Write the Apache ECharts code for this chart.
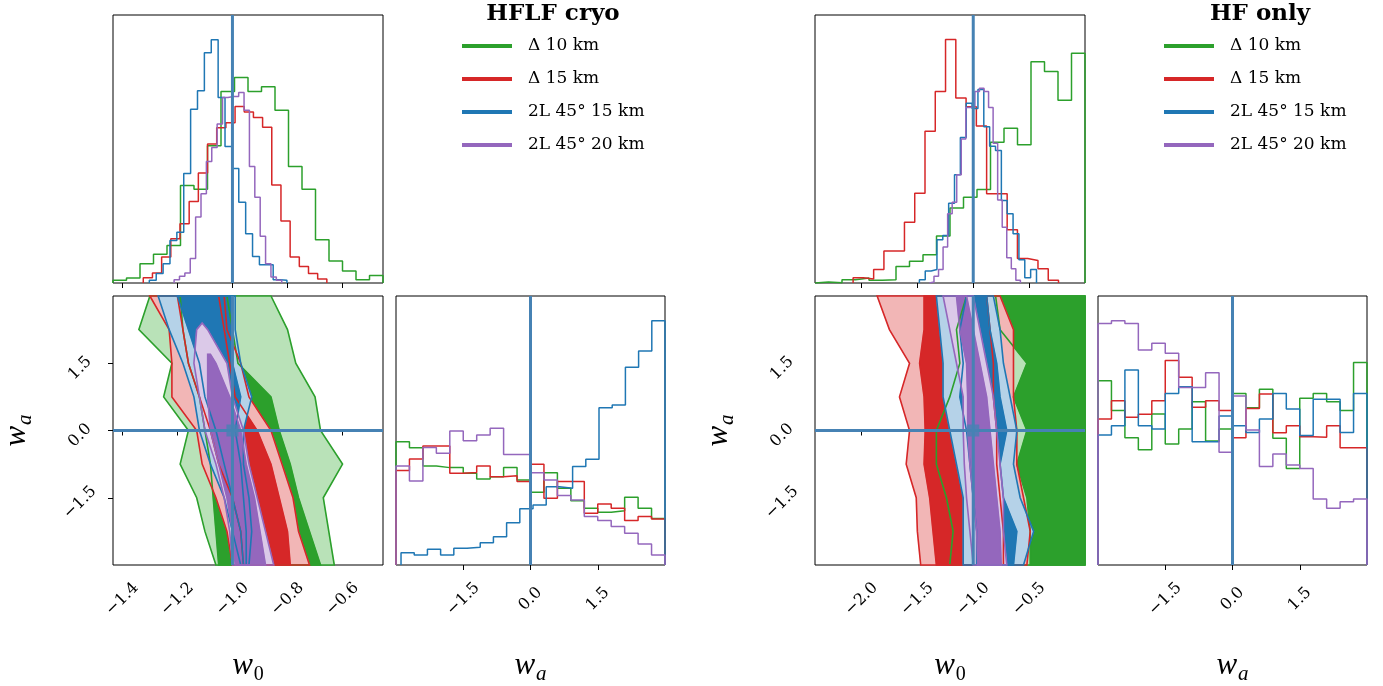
<!DOCTYPE html>
<html>
<head>
<meta charset="utf-8" />
<title>w0 - wa corner</title>
<style>
  html, body { margin: 0; padding: 0; background: #fff; }
  #chart { width: 1383px; height: 686px; }
</style>
</head>
<body>
<div id="chart"></div>
<script src="https://cdn.jsdelivr.net/npm/echarts@6.0.0/dist/echarts.min.js"></script>
<script>
var FONT = 'Liberation Serif';
var TICKFONT = 'DejaVu Serif';
var seriesNames = ['Δ 10 km', 'Δ 15 km', '2L 45° 15 km', '2L 45° 20 km'];
var lineColors = ['#2ca02c', '#d62728', '#1f77b4', '#9467bd'];
var fillColors = ['#b9e2b8', '#f2b6b6', '#b5d2e8', '#dbc9e8'];
var truthColor = '#4682b4';

var w0True = -1.0, waTrue = 0.0;
var w0RangeL = [-1.434, -0.453];
var w0RangeR = [-2.416, 0.0];
var waRange = [-3, 3];
var w0TicksL = [-1.4, -1.2, -1.0, -0.8, -0.6];
var w0TicksR = [-2.0, -1.5, -1.0, -0.5];
var waTicks = [-1.5, 0.0, 1.5];

// w0 histograms (bin range per curve, 20 bins each, arbitrary height units)
var w0BinsL = [[-1.434, -0.453], [-1.324, -0.657], [-1.302, -0.802], [-1.212, -0.821]];
var w0CountsL = [
  [1.0, 1.9, 7.2, 10.7, 14.0, 36.4, 35.0, 51.2, 71.5, 76.7, 71.5, 73.2, 64.5, 43.5, 35.0, 16.1, 8.2, 4.5, 1.2, 2.8],
  [2.0, 3.7, 9.7, 16.5, 22.1, 30.4, 41.0, 51.9, 57.9, 59.8, 65.9, 63.8, 61.8, 58.1, 36.6, 23.1, 9.7, 6.2, 3.5, 1.5],
  [1.0, 3.5, 7.2, 15.9, 18.9, 40.9, 64.8, 71.7, 85.9, 90.8, 69.2, 50.9, 42.7, 30.1, 18.4, 9.9, 6.8, 6.8, 1.2, 1.0],
  [1.2, 2.5, 3.7, 9.1, 24.6, 33.3, 45.3, 50.6, 59.3, 69.2, 69.6, 69.6, 71.1, 64.5, 43.5, 32.0, 17.4, 7.2, 2.2, 1.0]
];
var w0BinsR = [[-2.416, 0.0], [-2.075, -0.237], [-1.482, -0.434], [-1.392, -0.578]];
var w0CountsR = [
  [0.4, 0.1, 1.2, 1.9, 1.0, 1.2, 6.2, 8.1, 10.5, 17.5, 28.0, 32.0, 34.9, 52.5, 57.7, 51.6, 82.6, 78.9, 68.2, 85.7],
  [2.0, 1.5, 5.0, 11.9, 11.9, 22.7, 33.5, 56.6, 71.5, 90.9, 69.0, 65.8, 58.6, 33.3, 33.3, 19.9, 9.1, 8.4, 5.3, 1.0],
  [1.2, 4.5, 5.0, 16.1, 17.7, 29.8, 40.4, 54.3, 67.1, 65.1, 72.2, 58.3, 51.0, 49.4, 30.8, 25.8, 18.4, 8.7, 2.0, 5.0],
  [0.4, 2.5, 5.0, 13.4, 25.8, 30.1, 40.4, 53.7, 65.5, 65.8, 71.5, 72.7, 71.5, 65.5, 52.1, 31.0, 20.8, 9.4, 5.3, 1.0]
];

// wa histograms
var waBinsL = [[-3, 3], [-3, 3], [-2.888, 3], [-3, 3]];
var waCountsL = [
  [45.8, 43.6, 36.8, 36.2, 36.2, 34.1, 32.0, 32.8, 36.2, 31.6, 27.0, 34.3, 28.5, 23.9, 21.1, 19.6, 20.2, 25.2, 21.1, 17.3],
  [35.1, 39.4, 44.2, 44.2, 34.1, 34.4, 36.8, 32.8, 33.2, 31.0, 37.5, 24.8, 31.0, 31.0, 19.2, 22.7, 21.1, 16.5, 18.0, 17.1],
  [4.6, 3.7, 5.9, 3.7, 6.2, 6.6, 8.3, 10.5, 15.7, 20.9, 22.3, 29.1, 28.5, 36.6, 39.3, 58.5, 59.5, 73.5, 79.6, 90.8],
  [36.8, 31.2, 43.7, 41.5, 49.8, 46.2, 48.3, 50.8, 41.1, 41.1, 34.3, 31.6, 25.8, 24.2, 18.0, 16.5, 14.3, 11.8, 7.8, 3.7]
];
var waBinsR = [[-3, 3], [-3, 3], [-3, 3], [-3, 3]];
var waCountsR = [
  [68.5, 57.4, 47.3, 42.8, 56.1, 45.0, 50.6, 60.7, 46.1, 50.6, 63.8, 58.5, 65.3, 47.1, 35.9, 62.0, 63.8, 60.7, 57.4, 75.3],
  [54.3, 61.1, 54.9, 56.0, 61.1, 76.0, 69.8, 58.6, 61.1, 57.4, 47.3, 58.2, 63.6, 49.2, 51.8, 47.7, 47.5, 51.8, 43.6, 43.6],
  [48.3, 51.8, 72.5, 51.8, 50.6, 63.8, 66.3, 45.8, 45.8, 55.4, 51.8, 49.3, 54.3, 63.8, 58.0, 48.1, 61.6, 61.6, 49.3, 63.8],
  [89.8, 90.8, 89.8, 79.9, 82.4, 78.7, 66.0, 66.0, 71.5, 41.9, 62.8, 50.2, 36.6, 41.3, 37.2, 35.9, 24.5, 21.1, 23.5, 24.5]
];

// 2D credible regions: w0 bounds (lo, hi) at each wa row; outer = 2 sigma, inner = 1 sigma
var waRows = [3, 2.25, 1.5, 0.75, 0, -0.75, -1.5, -2.25, -3];
var contoursL = [
  {k: 0, level: 'outer', wa: waRows, lo: [-1.30, -1.34, -1.22, -1.25, -1.16, -1.19, -1.13, -1.10, -1.06], hi: [-0.86, -0.80, -0.77, -0.70, -0.68, -0.60, -0.67, -0.65, -0.63]},
  {k: 0, level: 'inner', wa: waRows, lo: [-1.19, -1.18, -1.16, -1.12, -1.10, -1.08, -1.07, -1.06, -1.05], hi: [-1.02, -1.00, -0.98, -0.86, -0.83, -0.79, -0.76, -0.72, -0.68]},
  {k: 1, level: 'outer', wa: waRows, lo: [-1.30, -1.23, -1.22, -1.22, -1.13, -1.11, -1.06, -1.02, -1.00], hi: [-1.03, -1.02, -0.97, -0.94, -0.86, -0.82, -0.78, -0.76, -0.72]},
  {k: 1, level: 'inner', wa: waRows, lo: [-1.20, -1.18, -1.16, -1.12, -1.08, -1.05, -1.00, -0.97, -0.96], hi: [-1.05, -1.03, -1.01, -0.99, -0.91, -0.86, -0.83, -0.80, -0.79]},
  {k: 2, level: 'outer', wa: waRows, lo: [-1.27, -1.23, -1.18, -1.14, -1.12, -1.08, -1.03, -1.00, -0.97], hi: [-0.99, -0.99, -0.97, -0.93, -0.96, -0.96, -0.94, -0.93, -0.94]},
  {k: 2, level: 'inner', wa: waRows, lo: [-1.20, -1.16, -1.12, -1.10, -1.06, -1.03, -1.00, -0.97, -0.96], hi: [-1.00, -1.00, -1.00, -0.97, -0.99, -0.97, -0.96, -0.95, -0.95]},
  {k: 3, level: 'outer', wa: [2.4, 2.25, 1.5, 0.75, 0, -0.75, -1.5, -2.25, -3], lo: [-1.11, -1.13, -1.14, -1.12, -1.10, -1.06, -1.03, -1.01, -1.00], hi: [-1.11, -1.09, -1.02, -1.00, -0.96, -0.94, -0.91, -0.88, -0.85]},
  {k: 3, level: 'inner', wa: [1.7, 1.5, 0.75, 0, -0.75, -1.5, -2.25, -3], lo: [-1.09, -1.09, -1.09, -1.08, -1.05, -1.02, -1.00, -0.99], hi: [-1.08, -1.06, -1.01, -0.97, -0.95, -0.92, -0.90, -0.88]}
];
var contoursR = [
  {k: 0, level: 'outer', wa: waRows, lo: [-1.06, -1.15, -1.12, -1.21, -1.33, -1.33, -1.24, -1.18, -1.21], hi: [0.1, 0.1, 0.1, 0.1, 0.1, 0.1, 0.1, 0.1, 0.1]},
  {k: 0, level: 'inner', wa: waRows, lo: [-0.80, -0.76, -0.52, -0.64, -0.52, -0.61, -0.52, -0.49, -0.49], hi: [0.1, 0.1, 0.1, 0.1, 0.1, 0.1, 0.1, 0.1, 0.1]},
  {k: 1, level: 'outer', wa: waRows, lo: [-1.86, -1.75, -1.57, -1.66, -1.57, -1.60, -1.51, -1.50, -1.47], hi: [-0.76, -0.64, -0.64, -0.64, -0.61, -0.61, -0.55, -0.49, -0.52]},
  {k: 1, level: 'inner', wa: waRows, lo: [-1.44, -1.44, -1.48, -1.44, -1.43, -1.44, -1.39, -1.36, -1.33], hi: [-0.88, -0.85, -0.82, -0.82, -0.79, -0.79, -0.76, -0.73, -0.73]},
  {k: 2, level: 'outer', wa: waRows, lo: [-1.33, -1.30, -1.27, -1.27, -1.21, -1.15, -1.09, -1.09, -1.09], hi: [-0.82, -0.76, -0.73, -0.67, -0.61, -0.64, -0.58, -0.46, -0.55]},
  {k: 2, level: 'inner', wa: waRows, lo: [-1.06, -1.12, -1.09, -1.12, -1.06, -1.03, -1.00, -0.97, -0.97], hi: [-0.88, -0.85, -0.79, -0.76, -0.70, -0.76, -0.73, -0.61, -0.64]},
  {k: 3, level: 'outer', wa: waRows, lo: [-1.27, -1.21, -1.15, -1.09, -1.09, -1.08, -1.06, -1.03, -1.00], hi: [-1.00, -0.94, -0.88, -0.82, -0.79, -0.76, -0.73, -0.73, -0.70]},
  {k: 3, level: 'inner', wa: waRows, lo: [-1.15, -1.12, -1.06, -1.05, -1.05, -1.03, -1.00, -0.97, -0.96], hi: [-1.06, -1.00, -0.94, -0.88, -0.85, -0.82, -0.79, -0.76, -0.75]}
];

function fmt(v) {
  return (v < 0 ? '\u2212' : '') + Math.abs(v).toFixed(1);
}

// step histogram as a line
function histSeries(name, color, range, counts, axisIdx) {
  var n = counts.length, step = (range[1] - range[0]) / n;
  var pts = [[range[0], 0]];
  for (var i = 0; i < n; i++) pts.push([range[0] + i * step, counts[i]]);
  pts.push([range[1], counts[n - 1]]);
  pts.push([range[1], 0]);
  return {
    name: name, type: 'line', step: 'end', data: pts,
    xAxisIndex: axisIdx, yAxisIndex: axisIdx,
    symbol: 'none', itemStyle: {color: color},
    lineStyle: {color: color, width: 1.5},
    emphasis: {disabled: true}, z: 3
  };
}

function clampPts(pts, cs) {
  return pts.map(function (p) {
    return [Math.min(Math.max(p[0], cs.x), cs.x + cs.width), Math.min(Math.max(p[1], cs.y), cs.y + cs.height)];
  });
}

function contourSeries(c, axisIdx, asLine) {
  return {
    type: 'custom', xAxisIndex: axisIdx, yAxisIndex: axisIdx,
    data: [[0, 0]], silent: true, z: asLine ? 4 : 2,
    renderItem: function (params, api) {
      var pts = [], i;
      for (i = 0; i < c.wa.length; i++) pts.push(api.coord([c.lo[i], c.wa[i]]));
      for (i = c.wa.length - 1; i >= 0; i--) pts.push(api.coord([c.hi[i], c.wa[i]]));
      var fill = c.level === 'outer' ? fillColors[c.k] : lineColors[c.k];
      return {
        type: 'polygon',
        shape: {points: clampPts(pts, params.coordSys)},
        style: asLine ? {fill: 'none', stroke: lineColors[c.k], lineWidth: 1.6}
                      : {fill: fill, stroke: fill, lineWidth: 0.5}
      };
    }
  };
}

function truthLine(pts, axisIdx) {
  return {
    type: 'line', data: pts, xAxisIndex: axisIdx, yAxisIndex: axisIdx,
    symbol: 'none', lineStyle: {color: truthColor, width: 3},
    emphasis: {disabled: true}, silent: true, z: 6
  };
}

var axisNameRich = {
  w: {fontFamily: FONT, fontStyle: 'italic', fontSize: 31, verticalAlign: 'top', lineHeight: 31, color: '#000'},
  s0: {fontFamily: FONT, fontSize: 20, verticalAlign: 'top', padding: [15, 0, 0, 1], color: '#000'},
  sa: {fontFamily: FONT, fontStyle: 'italic', fontSize: 21, verticalAlign: 'top', padding: [14, 0, 0, 1], color: '#000'}
};
// rotated tick labels, centred under the tick like matplotlib
var xTickLabel = {fontFamily: TICKFONT, fontSize: 16, color: '#000', rotate: 45, margin: 34,
  align: 'center', verticalAlign: 'middle', formatter: fmt};
var yTickLabel = {fontFamily: TICKFONT, fontSize: 16, color: '#000', rotate: 45, margin: 28,
  align: 'center', verticalAlign: 'middle', padding: [14, 14, 0, 0], formatter: fmt};
var tickStyle = {show: true, length: 5, lineStyle: {color: '#000', width: 1}};

var grids = [], xAxes = [], yAxes = [], series = [];

function buildPanel(x0, w0Range, w0Ticks, w0Bins, w0Counts, waBins, waCounts, contours) {
  var base = grids.length;
  var gs = [
    {left: x0, top: 15, width: 270, height: 268},
    {left: x0, top: 296, width: 270, height: 269},
    {left: x0 + 283, top: 296, width: 269, height: 269}
  ];
  gs.forEach(function (g) {
    g.show = true; g.borderColor = '#000'; g.borderWidth = 1; g.backgroundColor = 'transparent';
    g.containLabel = false; g.outerBoundsMode = 'none';
    grids.push(g);
  });
  // top hist
  xAxes.push({gridIndex: base, type: 'value', min: w0Range[0], max: w0Range[1],
    axisLine: {show: false}, splitLine: {show: false},
    axisTick: Object.assign({customValues: w0Ticks}, tickStyle), axisLabel: {show: false}});
  yAxes.push({gridIndex: base, type: 'value', min: 0, max: 100, show: false});
  // 2D
  xAxes.push({gridIndex: base + 1, type: 'value', min: w0Range[0], max: w0Range[1],
    axisLine: {show: false}, splitLine: {show: false},
    axisTick: Object.assign({customValues: w0Ticks}, tickStyle),
    axisLabel: Object.assign({customValues: w0Ticks}, xTickLabel),
    name: '{w|w}{s0|0}', nameLocation: 'middle', nameGap: 85, nameTextStyle: {rich: axisNameRich}});
  yAxes.push({gridIndex: base + 1, type: 'value', min: waRange[0], max: waRange[1],
    axisLine: {show: false}, splitLine: {show: false},
    axisTick: Object.assign({customValues: waTicks}, tickStyle),
    axisLabel: Object.assign({customValues: waTicks}, yTickLabel),
    name: '{w|w}{sa|a}', nameLocation: 'middle', nameGap: 77, nameTextStyle: {rich: axisNameRich}});
  // wa hist
  xAxes.push({gridIndex: base + 2, type: 'value', min: waRange[0], max: waRange[1],
    axisLine: {show: false}, splitLine: {show: false},
    axisTick: Object.assign({customValues: waTicks}, tickStyle),
    axisLabel: Object.assign({customValues: waTicks}, xTickLabel),
    name: '{w|w}{sa|a}', nameLocation: 'middle', nameGap: 85, nameTextStyle: {rich: axisNameRich}});
  yAxes.push({gridIndex: base + 2, type: 'value', min: 0, max: 100, show: false});

  for (var k = 0; k < 4; k++) {
    series.push(histSeries(seriesNames[k], lineColors[k], w0Bins[k], w0Counts[k], base));
    series.push(histSeries(seriesNames[k], lineColors[k], waBins[k], waCounts[k], base + 2));
  }
  contours.forEach(function (c) { series.push(contourSeries(c, base + 1, false)); });
  contours.forEach(function (c) { series.push(contourSeries(c, base + 1, true)); });

  series.push(truthLine([[w0True, 0], [w0True, 100]], base));
  series.push(truthLine([[w0True, waRange[0]], [w0True, waRange[1]]], base + 1));
  series.push(truthLine([[w0Range[0], waTrue], [w0Range[1], waTrue]], base + 1));
  series.push({type: 'scatter', data: [[w0True, waTrue]], xAxisIndex: base + 1, yAxisIndex: base + 1,
    symbol: 'rect', symbolSize: 12, itemStyle: {color: truthColor}, silent: true, z: 7});
  series.push(truthLine([[waTrue, 0], [waTrue, 100]], base + 2));
}

buildPanel(113, w0RangeL, w0TicksL, w0BinsL, w0CountsL, waBinsL, waCountsL, contoursL);
buildPanel(815, w0RangeR, w0TicksR, w0BinsR, w0CountsR, waBinsR, waCountsR, contoursR);

function legendAt(x) {
  return {
    data: seriesNames, left: x, top: 36, padding: 0, orient: 'vertical',
    icon: 'rect', itemWidth: 50, itemHeight: 4, itemGap: 13, selectedMode: false,
    textStyle: {fontFamily: TICKFONT, fontSize: 17, color: '#000', lineHeight: 20, padding: [0, 0, 0, 11]}
  };
}

var myChart = echarts.init(document.getElementById('chart'));
myChart.setOption({
  animation: false,
  backgroundColor: '#fff',
  grid: grids, xAxis: xAxes, yAxis: yAxes,
  legend: [legendAt(462), legendAt(1164)],
  graphic: [
    {type: 'text', x: 553, y: 3, style: {text: 'HFLF cryo', textAlign: 'center', fontFamily: TICKFONT, fontWeight: 'bold', fontSize: 23, fill: '#000'}},
    {type: 'text', x: 1260, y: 3, style: {text: 'HF only', textAlign: 'center', fontFamily: TICKFONT, fontWeight: 'bold', fontSize: 23, fill: '#000'}}
  ],
  series: series
});
</script>
</body>
</html>
